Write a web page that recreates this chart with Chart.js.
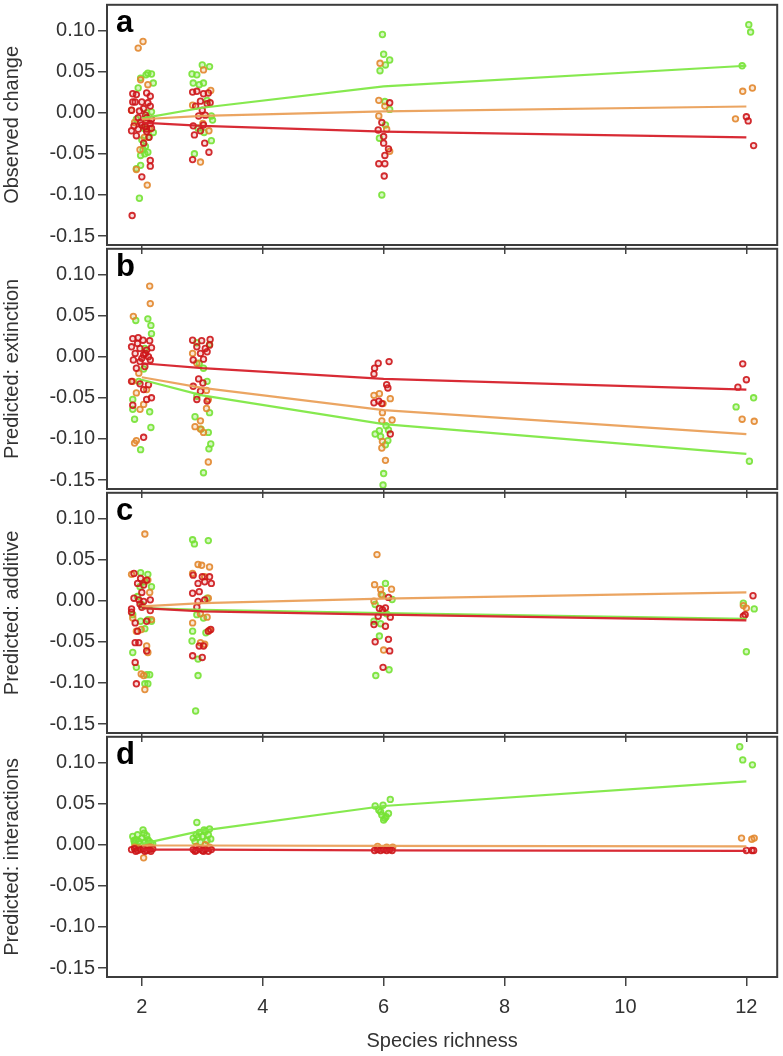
<!DOCTYPE html>
<html><head><meta charset="utf-8">
<script src="https://cdn.jsdelivr.net/npm/chart.js@4.4.1/dist/chart.umd.min.js"></script>
<style>
html,body{margin:0;padding:0;background:#fff;}
#wrap{position:relative;width:783px;height:1056px;overflow:hidden;background:#fff;}
canvas{position:absolute;left:0;}
</style>
</head><body>
<div id="wrap">
<canvas id="pa" width="783" height="256" style="top:-1px"></canvas>
<canvas id="pb" width="783" height="256" style="top:243px"></canvas>
<canvas id="pc" width="783" height="256" style="top:487px"></canvas>
<canvas id="pd" width="783" height="325" style="top:731px"></canvas>
</div>
<script>
// ---- axes / labels ----
const xTicks = [2, 4, 6, 8, 10, 12];
const yTicks = [-0.15, -0.10, -0.05, 0.00, 0.05, 0.10];
const xTitle = 'Species richness';
const panelLetters = ['a', 'b', 'c', 'd'];
const panelTitles = ['Observed change', 'Predicted: extinction', 'Predicted: additive', 'Predicted: interactions'];
const fitX = [2, 3, 6, 12];

// ---- panel a: observed change ----
const aGreen = [[2.10,0.048],[2.16,0.047],[2.07,0.046],[1.98,0.042],[1.94,0.030],[2.19,0.036],[2.08,0.000],[2.16,0.001],[1.91,-0.008],[2.03,-0.019],[2.11,-0.030],[2.00,-0.033],[2.06,-0.041],[2.10,-0.048],[1.98,-0.052],[1.98,-0.064],[1.91,-0.068],[1.96,-0.104],[2.19,-0.024],[2.02,-0.045],[2.05,-0.050],
  [2.83,0.047],[2.91,0.046],[3.00,0.058],[3.12,0.056],[2.85,0.036],[2.95,0.034],[3.02,0.036],[3.15,-0.004],[3.17,-0.009],[3.15,-0.034],[2.87,-0.050],[3.03,-0.024],[2.93,-0.019],[3.08,0.015],
  [5.98,0.095],[6.00,0.071],[6.10,0.064],[6.03,0.058],[5.94,0.051],[6.02,0.0135],[6.10,0.004],[6.03,-0.015],[5.93,-0.031],[5.97,-0.100],
  [12.04,0.107],[12.07,0.098],[11.93,0.057]];
const aOrange = [[2.02,0.0865],[1.94,0.0785],[1.98,0.040],[2.10,0.034],[1.83,0.003],[2.08,-0.009],[1.97,-0.045],[2.04,-0.030],[1.91,-0.069],[2.09,-0.088],[2.13,-0.020],[1.88,-0.012],
  [3.02,0.052],[3.14,0.027],[2.84,0.009],[3.11,-0.022],[3.01,-0.013],[2.97,-0.060],
  [5.94,0.060],[5.92,0.015],[5.92,-0.004],[6.05,-0.020],[6.10,-0.047],[6.02,0.008],
  [11.94,0.026],[12.10,0.030],[11.82,-0.0075]];
const aRed = [[1.85,0.023],[1.91,0.022],[2.08,0.024],[2.14,0.020],[1.85,0.013],[1.89,0.013],[2.00,0.013],[2.10,0.012],[2.03,0.005],[2.14,0.008],[1.83,0.003],[1.94,-0.006],[2.08,-0.006],[2.16,-0.008],[1.87,-0.016],[1.98,-0.012],[2.05,-0.017],[2.14,-0.013],[1.83,-0.022],[1.94,-0.020],[2.08,-0.023],[1.91,-0.028],[2.12,-0.030],[2.03,-0.037],[2.14,-0.058],[2.14,-0.065],[2.00,-0.078],[1.84,-0.125],[2.08,-0.020],[2.16,-0.019],[2.00,-0.015],[1.96,0.002],[2.06,-0.003],
  [2.84,0.025],[2.91,0.026],[3.02,0.023],[3.10,0.024],[2.97,0.014],[3.08,0.011],[3.13,0.012],[2.89,0.008],[3.00,0.003],[2.94,-0.004],[3.05,-0.003],[2.85,-0.016],[3.02,-0.015],[2.87,-0.027],[2.97,-0.022],[3.04,-0.037],[3.11,-0.048],[2.84,-0.057],
  [6.10,0.012],[5.97,-0.012],[5.91,-0.021],[6.00,-0.029],[6.00,-0.037],[6.08,-0.044],[6.02,-0.052],[5.92,-0.062],[6.02,-0.062],[6.01,-0.077],
  [12.00,-0.005],[12.03,-0.010],[12.12,-0.040]];
const aFitGreen = [-0.007, 0.006, 0.032, 0.057];
const aFitOrange = [-0.008, -0.004, 0.0015, 0.0075];
const aFitRed = [-0.012, -0.016, -0.023, -0.030];

// ---- panel b: predicted extinction ----
const bGreen = [[1.90,0.044],[2.10,0.046],[2.15,0.038],[2.16,0.028],[2.03,-0.015],[1.85,-0.052],[1.88,-0.076],[2.15,-0.086],[1.98,-0.113],[1.85,-0.064],[2.13,-0.067],[2.05,0.010],[1.95,-0.030],
  [2.91,0.017],[3.12,0.015],[2.95,-0.008],[3.02,-0.014],[3.08,-0.030],[2.91,-0.048],[2.88,-0.073],[3.12,-0.068],[3.10,-0.092],[3.14,-0.106],[3.11,-0.112],[3.02,-0.141],[2.98,-0.088],
  [6.04,-0.084],[6.08,-0.089],[5.86,-0.094],[5.93,-0.090],[6.03,-0.107],[6.07,-0.102],[6.00,-0.142],[5.99,-0.156],[5.95,-0.097],
  [12.12,-0.050],[11.83,-0.061],[12.05,-0.127]];
const bOrange = [[2.13,0.0858],[2.14,0.0645],[1.86,0.049],[1.85,-0.030],[1.91,-0.044],[1.97,-0.064],[1.88,-0.105],[1.91,-0.102],[2.08,-0.040],[2.03,-0.058],[1.95,-0.020],
  [2.84,0.004],[2.91,-0.008],[3.07,-0.041],[3.10,-0.052],[3.07,-0.063],[2.97,-0.078],[2.97,-0.088],[3.02,-0.092],[3.10,-0.128],[2.88,-0.085],
  [5.84,-0.047],[5.93,-0.045],[6.11,-0.051],[5.98,-0.068],[5.97,-0.078],[6.14,-0.077],[5.98,-0.103],[5.97,-0.111],[6.03,-0.126],[5.99,-0.057],
  [11.93,-0.076],[12.13,-0.0785]];
const bRed = [[1.85,0.022],[1.94,0.023],[2.02,0.020],[2.13,0.0195],[1.83,0.012],[1.97,0.010],[2.08,0.008],[2.16,0.011],[1.89,0.004],[2.03,0.002],[2.11,0.000],[1.86,-0.004],[1.97,-0.006],[2.14,-0.004],[1.91,-0.014],[2.05,-0.012],[1.83,-0.030],[1.97,-0.033],[2.11,-0.034],[2.03,-0.040],[2.08,-0.052],[2.16,-0.050],[1.85,-0.059],[2.03,-0.098],[2.00,-0.002],[2.06,0.004],[1.93,0.016],
  [2.84,0.020],[2.99,0.0195],[3.13,0.021],[2.91,0.012],[3.05,0.010],[3.12,0.014],[2.97,0.004],[3.08,0.006],[2.85,-0.004],[3.02,-0.003],[2.94,-0.027],[3.01,-0.032],[2.85,-0.036],[2.91,-0.052],[3.08,-0.054],[2.97,-0.042],
  [5.91,-0.008],[6.09,-0.006],[5.85,-0.014],[5.84,-0.021],[6.05,-0.034],[6.07,-0.038],[5.84,-0.056],[5.92,-0.054],[5.97,-0.057],[6.11,-0.094],
  [11.94,-0.0087],[12.00,-0.028],[11.86,-0.037]];
const bFitGreen = [-0.028, -0.047, -0.082, -0.118];
const bFitOrange = [-0.025, -0.038, -0.065, -0.094];
const bFitRed = [-0.008, -0.014, -0.027, -0.040];

// ---- panel c: predicted additive ----
const cGreen = [[1.98,0.034],[2.10,0.032],[2.05,0.023],[1.97,0.017],[2.16,0.017],[1.85,-0.017],[2.10,-0.023],[1.98,-0.025],[2.16,-0.025],[2.05,-0.034],[1.85,-0.063],[1.91,-0.081],[2.08,-0.090],[2.13,-0.090],[2.05,-0.101],[2.10,-0.101],[1.93,0.005],[2.00,-0.005],
  [2.84,0.074],[2.87,0.069],[3.10,0.073],[2.91,-0.017],[3.02,-0.021],[2.84,-0.037],[3.06,-0.039],[2.83,-0.049],[2.93,-0.071],[2.93,-0.091],[2.89,-0.134],[3.08,0.003],
  [6.03,0.021],[5.98,0.0066],[6.14,0.0014],[5.86,-0.0046],[6.05,-0.016],[5.84,-0.025],[5.95,-0.028],[5.93,-0.043],[6.09,-0.084],[5.87,-0.091],
  [11.95,-0.003],[12.13,-0.010],[12.00,-0.062]];
const cOrange = [[2.05,0.081],[1.83,0.032],[2.10,0.025],[1.91,-0.037],[1.99,-0.035],[2.08,-0.055],[2.10,-0.063],[1.99,-0.089],[2.03,-0.091],[2.05,-0.108],[1.85,-0.021],[2.16,-0.023],[2.13,0.010],
  [2.93,0.044],[2.99,0.043],[3.12,0.041],[2.84,0.033],[3.04,0.029],[3.10,0.003],[2.97,-0.016],[3.08,-0.020],[2.84,-0.027],[2.97,-0.051],[3.04,-0.053],[3.12,-0.036],
  [5.89,0.056],[5.85,0.0195],[6.13,0.014],[5.95,0.0135],[5.96,0.0075],[5.84,-0.0006],[6.00,-0.060],
  [12.00,-0.009],[11.95,-0.006]];
const cRed = [[1.87,0.033],[1.98,0.027],[2.08,0.025],[1.93,0.021],[2.03,0.019],[1.87,0.003],[1.95,0.001],[2.03,-0.001],[2.14,0.001],[1.83,-0.010],[2.00,-0.008],[1.89,-0.027],[2.08,-0.025],[1.93,-0.037],[1.89,-0.051],[1.95,-0.051],[2.08,-0.061],[1.89,-0.075],[1.91,-0.101],[1.83,-0.014],[2.14,-0.012],[2.00,0.010],[1.97,-0.004],
  [2.85,0.031],[3.00,0.029],[3.12,0.029],[2.93,0.021],[3.04,0.023],[3.15,0.021],[2.84,0.009],[2.95,0.011],[2.93,-0.001],[3.04,0.001],[2.91,-0.008],[3.10,-0.037],[3.14,-0.035],[2.95,-0.055],[3.02,-0.055],[2.84,-0.067],[3.00,-0.069],
  [5.93,-0.0095],[6.03,-0.0087],[5.98,-0.011],[6.08,0.004],[6.11,-0.020],[5.91,-0.019],[5.84,-0.029],[6.03,-0.031],[6.08,-0.047],[5.86,-0.050],[6.10,-0.061],[5.99,-0.081],
  [12.11,0.006],[11.95,-0.019],[11.98,-0.017]];
const cFitGreen = [-0.009, -0.011, -0.015, -0.022];
const cFitOrange = [-0.007, -0.003, 0.0026, 0.010];
const cFitRed = [-0.009, -0.013, -0.017, -0.024];

// ---- panel d: predicted interactions ----
const dGreen = [[1.85,0.010],[1.90,0.006],[1.95,0.004],[2.00,0.008],[2.05,0.003],[2.10,0.006],[2.15,0.002],[2.02,0.018],[1.88,0.002],[1.97,0.001],[2.08,0.011],[2.12,0.004],[1.93,0.012],[2.18,0.001],[2.04,0.014],[1.87,0.005],
  [2.91,0.027],[2.85,0.008],[2.90,0.012],[2.95,0.015],[3.00,0.010],[3.05,0.016],[3.10,0.012],[3.14,0.007],[2.88,0.004],[2.97,0.003],[3.03,0.018],[3.12,0.019],[2.93,0.009],[3.08,0.005],
  [6.11,0.055],[5.86,0.047],[5.95,0.040],[6.04,0.034],[6.00,0.030],[5.97,0.036],[6.08,0.038],[5.92,0.042],[6.02,0.032],[5.99,0.048],
  [11.89,0.119],[11.94,0.103],[12.10,0.097]];
const dOrange = [[2.03,-0.016],[1.88,-0.003],[2.10,-0.002],[1.95,-0.004],[2.15,-0.003],
  [3.05,0.000],[2.90,-0.002],[3.12,-0.003],
  [5.90,-0.002],[6.05,-0.003],[6.15,-0.003],
  [11.92,0.008],[12.09,0.0066],[12.13,0.008]];
const dRed = [[1.83,-0.006],[1.88,-0.005],[1.93,-0.007],[1.98,-0.006],[2.03,-0.005],[2.08,-0.007],[2.13,-0.006],[2.18,-0.005],[1.90,-0.008],[2.05,-0.008],[2.15,-0.008],
  [2.85,-0.006],[2.90,-0.007],[2.95,-0.005],[3.00,-0.007],[3.05,-0.006],[3.10,-0.008],[3.15,-0.006],[2.88,-0.008],[3.02,-0.008],
  [5.85,-0.007],[5.90,-0.006],[5.95,-0.007],[6.00,-0.006],[6.05,-0.007],[6.10,-0.006],[6.14,-0.007],
  [12.00,-0.007],[12.09,-0.007],[12.12,-0.007]];
const dFitGreen = [0.001, 0.017, 0.047, 0.077];
const dFitOrange = [-0.001, -0.001, -0.0015, -0.002];
const dFitRed = [-0.006, -0.006, -0.007, -0.0075];

// ---- styling ----
const FONT = '"Liberation Sans", Arial, Helvetica, sans-serif';
const TXT = '#333333';
const X_MIN = 1.424, X_MAX = 12.51;
const Y_MIN = -0.1608, Y_MAX = 0.1311;
const COL = {
  green: 'rgba(118,226,52,0.9)', orange: 'rgba(226,135,45,0.9)', red: 'rgba(205,22,25,0.9)',
  greenFill: 'rgba(118,226,52,0.3)', orangeFill: 'rgba(226,135,45,0.2)', redFill: 'rgba(205,22,25,0.15)',
  greenLine: 'rgba(128,232,70,0.95)', orangeLine: 'rgba(234,160,90,0.95)', redLine: 'rgba(214,32,42,0.95)'
};

const framePlugin = {
  id: 'frame',
  afterDraw(chart, args, opts) {
    const {ctx, chartArea: a} = chart;
    ctx.save();
    ctx.strokeStyle = '#3c3c3c';
    ctx.lineWidth = 2;
    ctx.strokeRect(a.left, a.top, a.right - a.left, a.bottom - a.top);
    ctx.fillStyle = '#000';
    ctx.font = 'bold 31px ' + FONT;
    ctx.textBaseline = 'alphabetic';
    ctx.textAlign = 'left';
    ctx.fillText(opts.letter, a.left + 9, a.top + 27);
    ctx.restore();
  }
};

function pts(arr, color, fill) {
  return {data: arr.map(p => ({x: p[0], y: p[1]})), showLine: false,
    pointRadius: 2.8, pointBorderWidth: 1.8, pointBorderColor: color,
    pointBackgroundColor: fill, pointStyle: 'circle'};
}
function fit(vals, color) {
  return {data: fitX.map((x, i) => ({x: x, y: vals[i]})), showLine: true,
    borderColor: color, borderWidth: 2.2, pointRadius: 0, tension: 0, fill: false};
}

function makePanel(id, k, green, orange, red, fG, fO, fR) {
  const last = k === 3;
  const tickGrid = {drawOnChartArea: false, drawTicks: true, tickLength: 9, color: '#444', lineWidth: 1.5};
  new Chart(document.getElementById(id), {
    type: 'scatter',
    data: {datasets: [
      fit(fR, COL.redLine), fit(fO, COL.orangeLine), fit(fG, COL.greenLine),
      pts(red, COL.red, COL.redFill), pts(orange, COL.orange, COL.orangeFill), pts(green, COL.green, COL.greenFill)
    ]},
    options: {
      responsive: false, animation: false, devicePixelRatio: 1,
      layout: {padding: {top: 2, right: 2, left: 0, bottom: 0}},
      plugins: {legend: {display: false}, tooltip: {enabled: false}, frame: {letter: panelLetters[k]}},
      scales: {
        x: {
          type: 'linear', position: 'bottom', min: X_MIN, max: X_MAX,
          afterBuildTicks: s => { s.ticks = xTicks.map(v => ({value: v})); },
          afterFit: s => { s.height = last ? 79 : 10; s.paddingLeft = 0; s.paddingRight = 0; },
          grid: tickGrid, border: {display: false},
          ticks: {display: last, padding: 9, color: TXT, font: {size: 20, family: FONT}, autoSkip: false, maxRotation: 0,
                  callback: v => String(v)},
          title: {display: last, text: xTitle, color: TXT, font: {size: 20, family: FONT}, padding: {top: 0, bottom: 3}}
        },
        y: {
          type: 'linear', position: 'left', min: Y_MIN, max: Y_MAX,
          afterBuildTicks: s => { s.ticks = yTicks.map(v => ({value: v})); },
          afterFit: s => { s.width = 107; s.paddingTop = 0; s.paddingBottom = 0; },
          grid: tickGrid, border: {display: false},
          ticks: {padding: 3, color: TXT, font: {size: 20, family: FONT}, autoSkip: false,
                  callback: v => v.toFixed(2)},
          title: {display: true, text: panelTitles[k], color: TXT, font: {size: 20, family: FONT}, padding: {top: 0, bottom: 0}}
        }
      }
    },
    plugins: [framePlugin]
  });
}

makePanel('pa', 0, aGreen, aOrange, aRed, aFitGreen, aFitOrange, aFitRed);
makePanel('pb', 1, bGreen, bOrange, bRed, bFitGreen, bFitOrange, bFitRed);
makePanel('pc', 2, cGreen, cOrange, cRed, cFitGreen, cFitOrange, cFitRed);
makePanel('pd', 3, dGreen, dOrange, dRed, dFitGreen, dFitOrange, dFitRed);
</script>
</body></html>
